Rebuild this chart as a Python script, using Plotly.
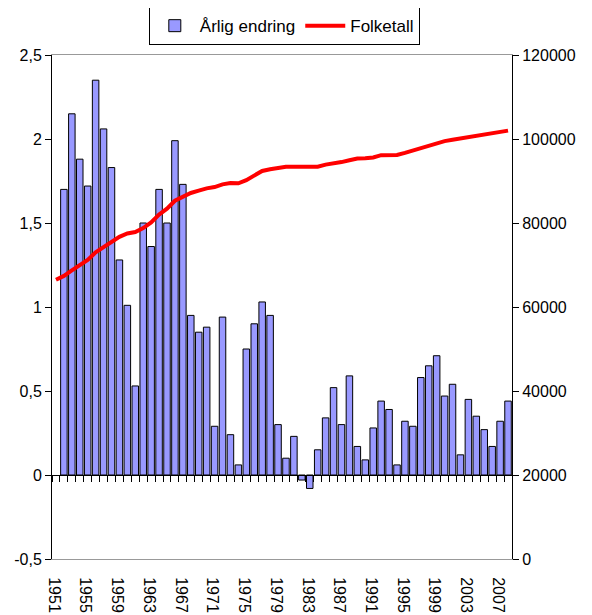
import plotly.graph_objects as go

# annual change in percent, 1951-2007
change_years = list(range(1951, 2008))
annual_change = [
    1.70, 2.15, 1.88, 1.72, 2.35, 2.06, 1.83, 1.28, 1.01, 0.53,
    1.50, 1.36, 1.70, 1.50, 1.99, 1.73, 0.95, 0.85, 0.88, 0.29,
    0.94, 0.24, 0.06, 0.75, 0.90, 1.03, 0.95, 0.30, 0.10, 0.23,
    -0.03, -0.08, 0.15, 0.34, 0.52, 0.30, 0.59, 0.17, 0.09, 0.28,
    0.44, 0.39, 0.06, 0.32, 0.29, 0.58, 0.65, 0.71, 0.47, 0.54,
    0.12, 0.45, 0.35, 0.27, 0.17, 0.32, 0.44,
]

# population, 1950-2007
pop_years = list(range(1950, 2008))
population = [
    66500, 67400, 68700, 69900, 71200, 73000, 74300, 75500, 76700, 77500,
    77850, 78800, 80150, 82000, 83400, 85300, 86300, 87150, 87700, 88250,
    88550, 89200, 89500, 89450, 90200, 91300, 92400, 92800, 93200, 93400,
    93400, 93400, 93400, 93400, 93900, 94150, 94500, 94950, 95350, 95400,
    95600, 96150, 96200, 96200, 96700, 97300, 97800, 98400, 99100, 99500,
    99800, 100100, 100400, 100750, 100950, 101250, 101700, 102000,
]

x_tick_years = list(range(1951, 2008, 4))
left_ticks = [-0.5, 0, 0.5, 1, 1.5, 2, 2.5]
left_labels = ["-0,5", "0", "0,5", "1", "1,5", "2", "2,5"]

FONT = "Liberation Sans, Arial, sans-serif"
XRANGE = [1949.5, 2007.5]

fig = go.Figure()
fig.add_trace(go.Bar(
    x=change_years, y=annual_change, name="Årlig endring",
    marker=dict(color="#9999FF", line=dict(color="black", width=1)),
    width=0.82, xaxis="x", yaxis="y",
))
fig.add_trace(go.Scatter(
    x=pop_years, y=population, name="Folketall", mode="lines",
    line=dict(color="#FF0000", width=4),
    xaxis="x3", yaxis="y2",
))

fig.update_layout(
    width=592, height=615,
    # the page adds an 8px body margin, so the plot area is placed 8px up/left
    margin=dict(l=44, r=88, t=47, b=64, autoexpand=False),
    paper_bgcolor="white", plot_bgcolor="white",
    font=dict(family=FONT, size=16, color="black"),
    showlegend=True,
    legend=dict(
        orientation="h", x=0.505, xanchor="center", y=1.095, yanchor="top",
        bgcolor="white", bordercolor="black", borderwidth=1,
        font=dict(size=17), tracegroupgap=0, itemwidth=40,
    ),
    xaxis=dict(
        range=XRANGE, tickvals=x_tick_years, tickangle=90,
        showgrid=False, zeroline=False, ticks="", automargin=False,
        showline=True, linecolor="#999999", mirror=True,
        ticklabelstandoff=14, ticklabelshift=-10,
    ),
    xaxis3=dict(
        range=XRANGE, overlaying="x", anchor="free", position=1 / 6,
        tickmode="linear", tick0=1949.5, dtick=1, automargin=False,
        ticks="outside", ticklen=6, tickcolor="black",
        showticklabels=False, showgrid=False, zeroline=False,
        showline=True, linecolor="black", linewidth=1,
    ),
    yaxis=dict(
        range=[-0.5, 2.5], tickvals=left_ticks, ticktext=left_labels,
        showgrid=False, zeroline=False, automargin=False,
        showline=True, linecolor="black",
        ticks="outside", ticklen=6, tickcolor="black",
    ),
    yaxis2=dict(
        range=[0, 120000], dtick=20000, tickformat="d",
        overlaying="y", side="right", anchor="x3", automargin=False,
        showgrid=False, zeroline=False,
        showline=True, linecolor="black",
        ticks="outside", ticklen=6, tickcolor="black",
    ),
)

fig.write_html("out.html")
